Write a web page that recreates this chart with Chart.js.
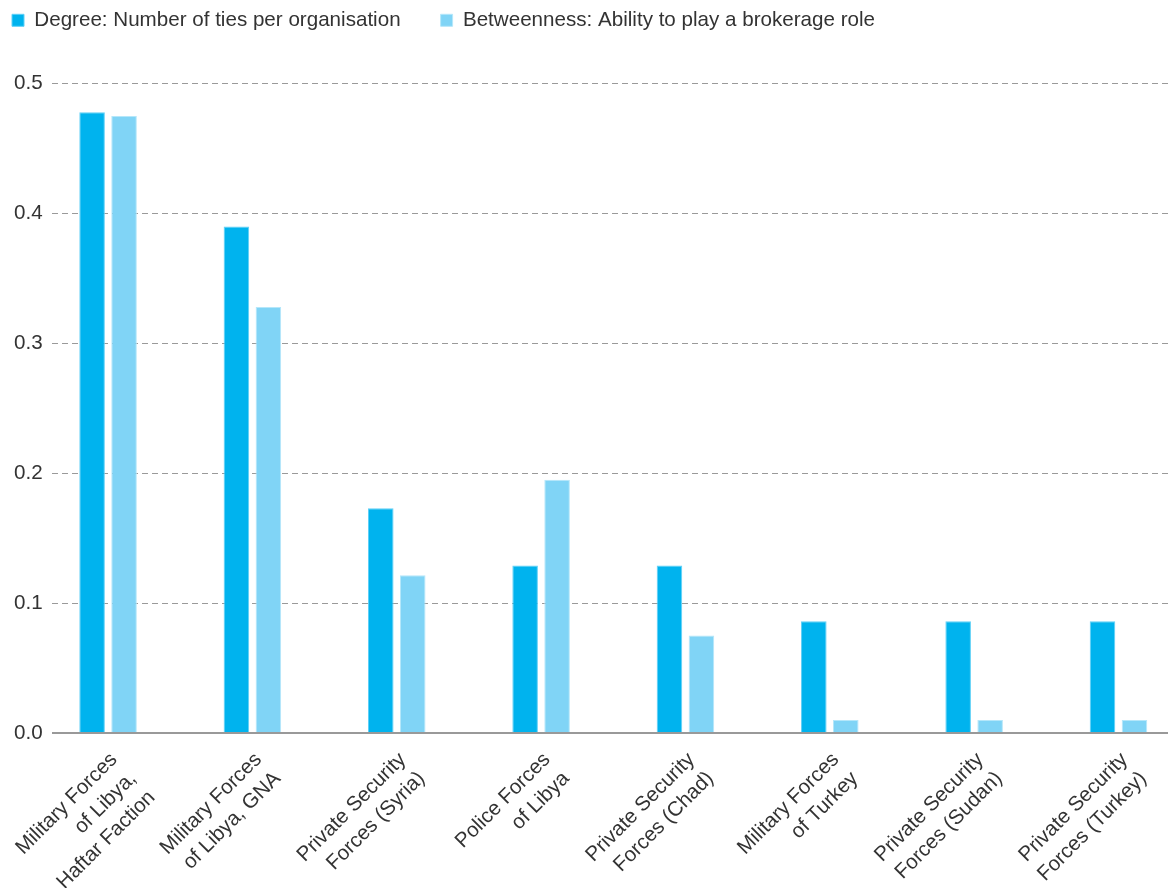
<!DOCTYPE html>
<html>
<head>
<meta charset="utf-8">
<script src="https://cdn.jsdelivr.net/npm/chart.js@4/dist/chart.umd.min.js"></script>
<style>
  html, body { margin: 0; padding: 0; background: #fff; }
  #wrap { width: 1170px; height: 888px; position: relative; }
</style>
</head>
<body>
<div id="wrap"><canvas id="c"></canvas></div>
<script>
const categories = [
  ["Military Forces", "of Libya,", "Haftar Faction"],
  ["Military Forces", "of Libya, GNA"],
  ["Private Security", "Forces (Syria)"],
  ["Police Forces", "of Libya"],
  ["Private Security", "Forces (Chad)"],
  ["Military Forces", "of Turkey"],
  ["Private Security", "Forces (Sudan)"],
  ["Private Security", "Forces (Turkey)"]
];
const seriesNames = ["Degree: Number of ties per organisation", "Betweenness: Ability to play a brokerage role"];
const degree = [0.478, 0.390, 0.173, 0.129, 0.129, 0.086, 0.086, 0.086];
const betweenness = [0.475, 0.328, 0.1215, 0.195, 0.075, 0.01, 0.01, 0.01];
const yTicks = [0, 0.1, 0.2, 0.3, 0.4, 0.5];

const FONT = "'Liberation Sans', Arial, sans-serif";
const FS = 20.6;
const TEXT = '#333333';

const legendTweak = {
  id: 'legendTweak',
  beforeInit(chart) {
    const orig = chart.legend.fit;
    chart.legend.fit = function () {
      orig.call(this);
      this.height += 11;
    };
  },
  afterLayout(chart) {
    chart.legend.left -= 30;
    chart.legend.top -= 32;
  }
};

new Chart(document.getElementById('c'), {
  type: 'bar',
  data: {
    datasets: [
      {
        label: seriesNames[0],
        data: degree.map((y, i) => ({ x: i, y })),
        backgroundColor: '#00b3ee',
        borderColor: '#5fd0f7',
        borderWidth: 1,
        barPercentage: 0.8,
        categoryPercentage: 0.443
      },
      {
        label: seriesNames[1],
        data: betweenness.map((y, i) => ({ x: i, y })),
        backgroundColor: '#80d4f6',
        borderColor: '#b5e7fa',
        borderWidth: 1,
        barPercentage: 0.8,
        categoryPercentage: 0.443
      }
    ]
  },
  options: {
    responsive: true,
    maintainAspectRatio: false,
    animation: false,
    layout: { padding: { left: 2, right: 2, top: 2, bottom: 0 } },
    plugins: {
      legend: {
        position: 'top',
        align: 'start',
        labels: {
          boxWidth: 12,
          boxHeight: 12,
          padding: 40,
          color: TEXT,
          font: { family: FONT, size: FS }
        }
      },
      tooltip: { enabled: false }
    },
    scales: {
      x: {
        type: 'linear',
        offset: false,
        min: -0.391,
        max: 7.343,
        afterBuildTicks(axis) {
          axis.ticks = categories.map((_, i) => ({ value: i }));
        },
        afterFit(axis) {
          axis.height = 155;
        },
        grid: { display: false },
        border: { display: false },
        ticks: {
          autoSkip: false,
          minRotation: 45,
          maxRotation: 45,
          labelOffset: 6,
          padding: 6,
          color: TEXT,
          font: { family: FONT, size: FS, lineHeight: 1.3 },
          callback: (v) => categories[v]
        }
      },
      y: {
        min: 0,
        max: 0.5,
        afterBuildTicks(axis) {
          axis.ticks = yTicks.map(v => ({ value: v }));
        },
        afterFit(axis) {
          axis.width += 3;
        },
        grid: {
          drawTicks: false,
          color: (ctx) => ctx.tick && ctx.tick.value === 0 ? '#999999' : '#9a9a9a',
          lineWidth: (ctx) => ctx.tick && ctx.tick.value === 0 ? 2 : 1
        },
        border: {
          display: false,
          dash: (ctx) => ctx.tick && ctx.tick.value === 0 ? [] : [6, 4]
        },
        ticks: {
          padding: 9,
          color: TEXT,
          font: { family: FONT, size: FS },
          callback: (v) => Number(v).toFixed(1)
        }
      }
    }
  },
  plugins: [legendTweak]
});
</script>
</body>
</html>
